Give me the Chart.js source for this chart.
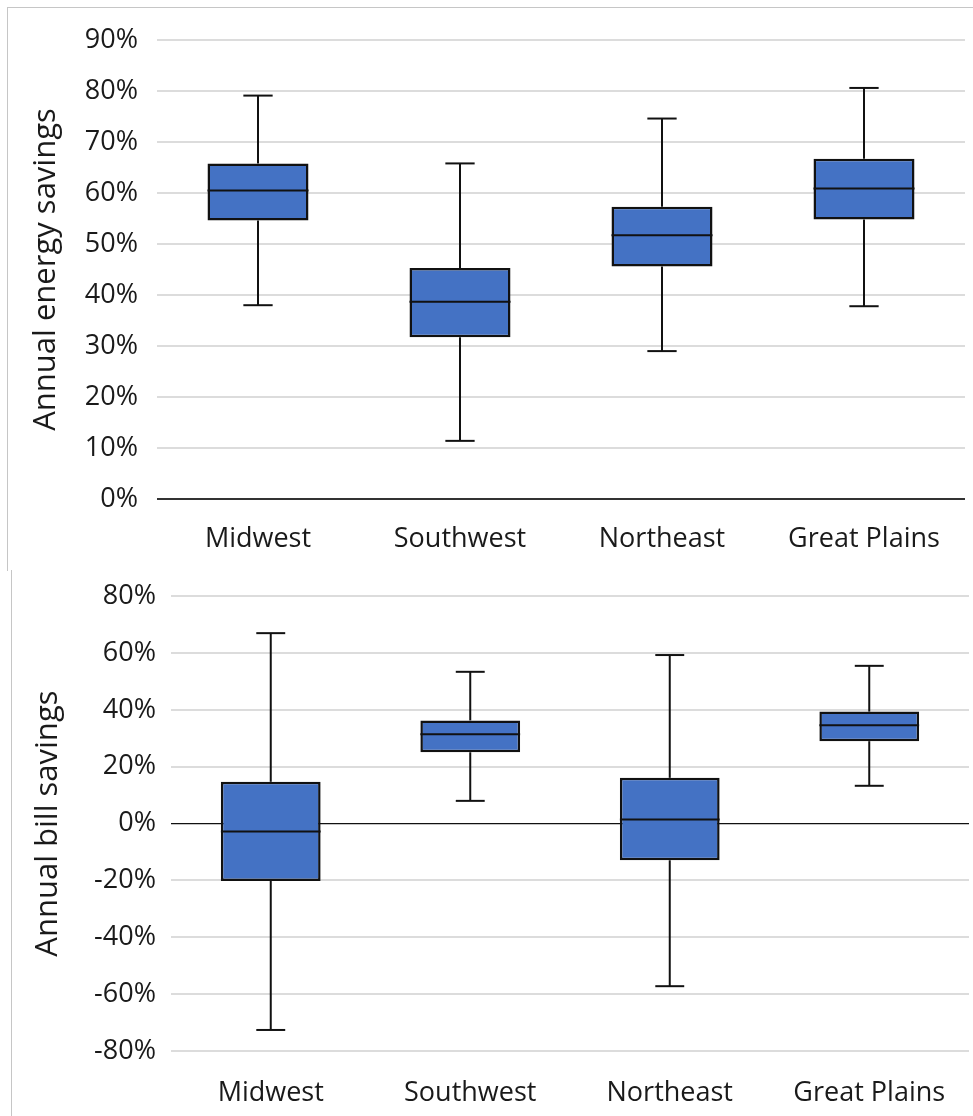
<!DOCTYPE html>
<html>
<head>
<meta charset="utf-8">
<script src="https://cdn.jsdelivr.net/npm/chart.js@4.4.1/dist/chart.umd.min.js"></script>
<style>
  body { margin: 0; background: #fff; }
  #wrap { position: relative; width: 973px; height: 1116px; overflow: hidden; }
  .frame1 { position: absolute; left: 7px; top: 7px; width: 980px; height: 563px;
            border-left: 1px solid #c6c6c6; border-top: 1px solid #c6c6c6; }
  .frame2 { position: absolute; left: 11px; top: 570px; width: 980px; height: 560px;
            border-left: 1px solid #c6c6c6; }
  .box { position: absolute; left: 0; }
</style>
</head>
<body>
<div id="wrap">
  <div class="frame1"></div>
  <div class="frame2"></div>
  <div class="box" style="top:0;width:973px;height:565px"><canvas id="energyChart"></canvas></div>
  <div class="box" style="top:565px;width:973px;height:551px"><canvas id="billChart"></canvas></div>
</div>
<script>
const categories = ["Midwest", "Southwest", "Northeast", "Great Plains"];

// annual energy savings (%)
const energyMin = [38.0, 11.4, 29.0, 37.8];
const energyQ1 = [54.6, 31.7, 45.6, 54.8];
const energyMedian = [60.5, 38.7, 51.7, 60.9];
const energyQ3 = [65.8, 45.3, 57.3, 66.7];
const energyMax = [79.1, 65.8, 74.6, 80.6];

// annual bill savings (%)
const billMin = [-72.6, 8.0, -57.2, 13.3];
const billQ1 = [-20.2, 25.1, -12.9, 29.0];
const billMedian = [-2.8, 31.4, 1.4, 34.6];
const billQ3 = [14.7, 36.3, 16.1, 39.4];
const billMax = [67.0, 53.4, 59.3, 55.5];

const boxBlue = "#4472c4";
const textColor = "#1a1a1a";
const fontFamily = "'Open Sans', 'Noto Sans', sans-serif";

// whiskers, caps and median line drawn over the floating bars
const whiskerPlugin = {
  id: "whiskers",
  afterDatasetsDraw(chart, args, opts) {
    const ctx = chart.ctx;
    const y = chart.scales.y;
    const meta = chart.getDatasetMeta(0);
    ctx.save();
    ctx.strokeStyle = "#111";
    ctx.lineWidth = 2;
    const line = (x1, y1, x2, y2) => {
      ctx.beginPath();
      ctx.moveTo(x1, y1);
      ctx.lineTo(x2, y2);
      ctx.stroke();
    };
    meta.data.forEach((bar, i) => {
      const cx = bar.x;
      const half = bar.width / 2;
      const cap = bar.width * 0.145;
      const yMax = y.getPixelForValue(opts.max[i]);
      const yQ3 = y.getPixelForValue(opts.q3[i]);
      const yQ1 = y.getPixelForValue(opts.q1[i]);
      const yMin = y.getPixelForValue(opts.min[i]);
      const yMed = y.getPixelForValue(opts.median[i]);
      line(cx, yQ3, cx, yMax);
      line(cx - cap, yMax, cx + cap, yMax);
      line(cx, yQ1, cx, yMin);
      line(cx - cap, yMin, cx + cap, yMin);
      line(cx - half, yMed, cx + half, yMed);
    });
    ctx.restore();
  }
};

function makeBoxChart(id, q1, q3, median, min, max, opt) {
  const ctx = document.getElementById(id);
  return new Chart(ctx, {
    type: "bar",
    data: {
      labels: categories,
      datasets: [
        {
          data: categories.map((c, i) => [q1[i], q3[i]]),
          backgroundColor: boxBlue,
          borderColor: "#111",
          borderWidth: 2.5,
          borderSkipped: false,
          categoryPercentage: 0.5,
          barPercentage: 1,
        },
      ],
    },
    options: {
      responsive: true,
      maintainAspectRatio: false,
      animation: false,
      layout: { padding: { top: opt.padTop, right: opt.padRight, left: 0, bottom: 0 } },
      plugins: {
        legend: { display: false },
        tooltip: { enabled: false },
        whiskers: { q1: q1, q3: q3, median: median, min: min, max: max },
      },
      scales: {
        x: {
          grid: { display: false },
          border: { display: false },
          ticks: {
            color: textColor,
            padding: opt.xPad,
            font: { family: fontFamily, size: 27 },
          },
          afterFit(scale) {
            scale.height = opt.xHeight;
          },
        },
        y: {
          min: opt.min,
          max: opt.max,
          border: { display: false },
          grid: {
            drawTicks: false,
            color: (c) => (c.tick.value === 0 ? opt.zeroColor : "#dcdcdc"),
            lineWidth: (c) => (c.tick.value === 0 ? opt.zeroWidth : 2),
          },
          ticks: {
            stepSize: opt.step,
            color: textColor,
            padding: opt.yPad,
            font: { family: fontFamily, size: 27 },
            callback: (v) => v + "%",
          },
          title: {
            display: true,
            text: opt.title,
            color: textColor,
            padding: { top: opt.titlePad, bottom: 0 },
            font: { family: fontFamily, size: 31 },
          },
          afterFit(scale) {
            scale.width = opt.yWidth;
          },
        },
      },
    },
    plugins: [whiskerPlugin],
  });
}

makeBoxChart("energyChart", energyQ1, energyQ3, energyMedian, energyMin, energyMax, {
  padTop: 40, padRight: 8, xHeight: 66, yWidth: 157, xPad: 16, yPad: 19,
  min: 0, max: 90, step: 10, title: "Annual energy savings", titlePad: 28,
  zeroColor: "#333", zeroWidth: 2,
});

makeBoxChart("billChart", billQ1, billQ3, billMedian, billMin, billMax, {
  padTop: 28, padRight: 4, xHeight: 65, yWidth: 171, xPad: 18, yPad: 15,
  min: -80, max: 80, step: 20, title: "Annual bill savings", titlePad: 30,
  zeroColor: "#111", zeroWidth: 1.3,
});
</script>
</body>
</html>
